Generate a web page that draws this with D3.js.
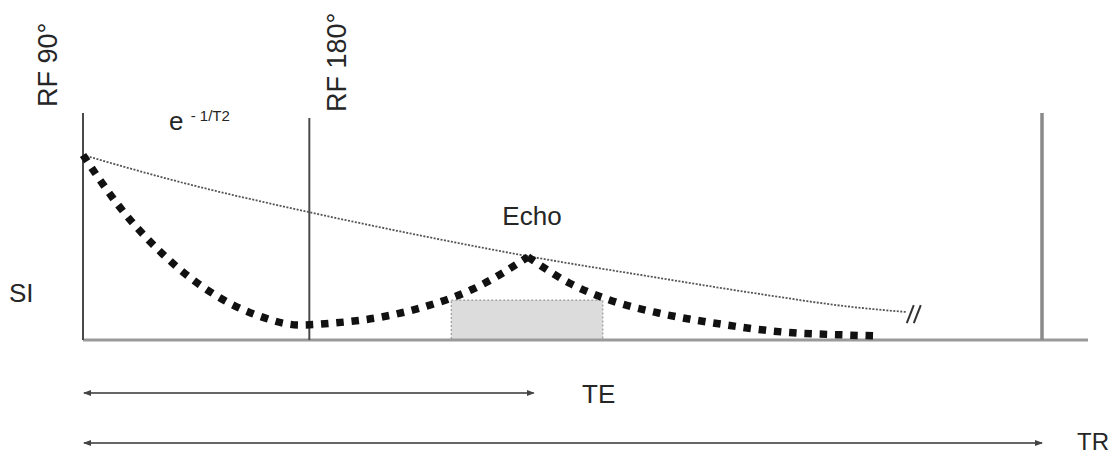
<!DOCTYPE html>
<html>
<head>
<meta charset="utf-8">
<script src="https://cdn.jsdelivr.net/npm/d3@7"></script>
<style>
  body { margin: 0; background: #fff; }
  svg { display: block; }
  text { font-family: "Liberation Sans", Arial, Helvetica, sans-serif; fill: #262626; }
</style>
</head>
<body>
<script>
const width = 1118;
const height = 456;

// time axis (arbitrary units, TR = 100) and signal intensity (SI at RF 90 = 100)
const TE = 47;
const TR = 100;
const axisEnd = 104.8;

// RF pulses
const pulseNames = ["RF 90°", "RF 180°"];
const pulseT = [0, 23.6];
const pulseTop = [122.7, 120];
const trTop = 122.7;

// T2 decay envelope
const decayT = [0, 10.1, 23.5, 34.4, 46.3, 59.4, 69.9, 80.3, 85.9];
const decaySI = [100, 85.4, 69.2, 57.3, 45.4, 34.1, 25.4, 17.8, 15.1];

// signal: FID dephasing then rephasing into the echo
const echoT = [0, 3.9, 8.3, 13.6, 18.1, 22.6, 26.2, 31.1, 35.9, 40.7, 46.4];
const echoSI = [100, 71.4, 46.5, 24.9, 13.5, 8.1, 9.2, 12.4, 18.4, 27.6, 44.9];
// signal after the echo
const tailT = [46.4, 50.7, 55.2, 60.0, 66.5, 73.0, 79.6, 82.8];
const tailSI = [44.9, 30.8, 21.1, 14.6, 8.6, 4.3, 2.7, 2.2];

// readout window (grey box)
const readout = [38.4, 54.2];
const readoutSI = 21.6;

var svg, xScale, yScale;

function generateScale() {
    xScale = d3.scaleLinear().domain([0, 100]).range([83, 1042]);
    yScale = d3.scaleLinear().domain([0, 100]).range([340, 155]);
}

function generateFrame() {
    // baseline
    svg.append("line")
        .attr("x1", xScale(0)).attr("x2", xScale(axisEnd))
        .attr("y1", yScale(0)).attr("y2", yScale(0))
        .attr("stroke", "#9a9a9a").attr("stroke-width", 3);

    // RF pulse lines
    svg.selectAll(".pulse")
        .data(pulseT)
        .enter()
        .append("line")
        .attr("class", "pulse")
        .attr("x1", d => xScale(d)).attr("x2", d => xScale(d))
        .attr("y1", yScale(0)).attr("y2", (d, i) => yScale(pulseTop[i]))
        .attr("stroke", "#4a4a4a").attr("stroke-width", 2);

    // TR line
    svg.append("line")
        .attr("x1", xScale(TR)).attr("x2", xScale(TR))
        .attr("y1", yScale(0)).attr("y2", yScale(trTop))
        .attr("stroke", "#8a8a8a").attr("stroke-width", 3.5);

    // pulse labels, rotated
    svg.selectAll(".pulseLabel")
        .data(pulseNames)
        .enter()
        .append("text")
        .attr("class", "pulseLabel")
        .attr("transform", (d, i) => "translate(" + (xScale(pulseT[i]) - (i === 0 ? 26 : -37)) + "," + (i === 0 ? 107 : 112) + ") rotate(-90)")
        .style("font-size", "27px")
        .text(d => d);
}

function generateReadout() {
    svg.append("rect")
        .attr("x", xScale(readout[0]))
        .attr("y", yScale(readoutSI))
        .attr("width", xScale(readout[1]) - xScale(readout[0]))
        .attr("height", yScale(0) - yScale(readoutSI))
        .attr("fill", "#dcdcdc")
        .attr("stroke", "#999")
        .attr("stroke-width", 1.2)
        .attr("stroke-dasharray", "2,2");
}

function generateCurves() {
    const line = d3.line()
        .x(d => xScale(d[0]))
        .y(d => yScale(d[1]))
        .curve(d3.curveMonotoneX);

    // T2 envelope
    svg.append("path")
        .datum(decayT.map((t, i) => [t, decaySI[i]]))
        .attr("d", line)
        .attr("fill", "none")
        .attr("stroke", "#555")
        .attr("stroke-width", 1.8)
        .attr("stroke-dasharray", "2,1.5");

    // break mark at the end of the envelope
    const bx = xScale(decayT[decayT.length - 1]) + 7;
    const by = yScale(decaySI[decaySI.length - 1]) + 2;
    [-3.5, 3.5].forEach(function (off) {
        svg.append("line")
            .attr("x1", bx + off - 3.5).attr("y1", by + 9)
            .attr("x2", bx + off + 3.5).attr("y2", by - 9)
            .attr("stroke", "#333").attr("stroke-width", 2);
    });

    // signal with square dots
    [echoT.map((t, i) => [t, echoSI[i]]), tailT.map((t, i) => [t, tailSI[i]])].forEach(function (seg) {
        svg.append("path")
            .datum(seg)
            .attr("d", line)
            .attr("fill", "none")
            .attr("stroke", "#111")
            .attr("stroke-width", 7.5)
            .attr("stroke-dasharray", "7.5,7.8");
    });
}

function generateLabels() {
    svg.append("text")
        .attr("x", xScale(echoT[echoT.length - 1]) + 4)
        .attr("y", yScale(echoSI[echoSI.length - 1]) - 32)
        .attr("text-anchor", "middle")
        .style("font-size", "26px")
        .text("Echo");

    svg.append("text")
        .attr("x", 9)
        .attr("y", 302)
        .style("font-size", "26px")
        .text("SI");

    const t2 = svg.append("text")
        .attr("x", 169)
        .attr("y", 130)
        .style("font-size", "26px");
    t2.append("tspan").text("e ");
    t2.append("tspan")
        .attr("dy", -9)
        .style("font-size", "15px")
        .text("- 1/T2");
}

function generateArrows() {
    const defs = svg.append("defs");
    ["start", "end"].forEach(function (k) {
        defs.append("marker")
            .attr("id", "arrow-" + k)
            .attr("viewBox", "0 -4 8 8")
            .attr("refX", k === "end" ? 7 : 1)
            .attr("refY", 0)
            .attr("markerUnits", "userSpaceOnUse")
            .attr("markerWidth", 8)
            .attr("markerHeight", 8)
            .attr("orient", "auto")
            .append("path")
            .attr("d", k === "end" ? "M0,-3L8,0L0,3Z" : "M8,-3L0,0L8,3Z")
            .attr("fill", "#444");
    });

    const spans = [TE, TR];
    const spanNames = ["TE", "TR"];
    const spanY = [393, 443];
    const labelX = [582, 1077];
    const labelY = [403, 450];
    const labelSize = [26, 24];

    svg.selectAll(".span")
        .data(spans)
        .enter()
        .append("line")
        .attr("class", "span")
        .attr("x1", xScale(0) + 1).attr("x2", d => xScale(d))
        .attr("y1", (d, i) => spanY[i]).attr("y2", (d, i) => spanY[i])
        .attr("stroke", "#666").attr("stroke-width", 2)
        .attr("marker-start", "url(#arrow-start)")
        .attr("marker-end", "url(#arrow-end)");

    svg.selectAll(".spanLabel")
        .data(spanNames)
        .enter()
        .append("text")
        .attr("class", "spanLabel")
        .attr("x", (d, i) => labelX[i])
        .attr("y", (d, i) => labelY[i])
        .style("font-size", (d, i) => labelSize[i] + "px")
        .text(d => d);
}

document.addEventListener("DOMContentLoaded", function () {
    svg = d3.select("body")
        .append("svg")
        .attr("width", width)
        .attr("height", height);

    generateScale();
    generateReadout();
    generateFrame();
    generateCurves();
    generateLabels();
    generateArrows();
});
</script>
</body>
</html>
